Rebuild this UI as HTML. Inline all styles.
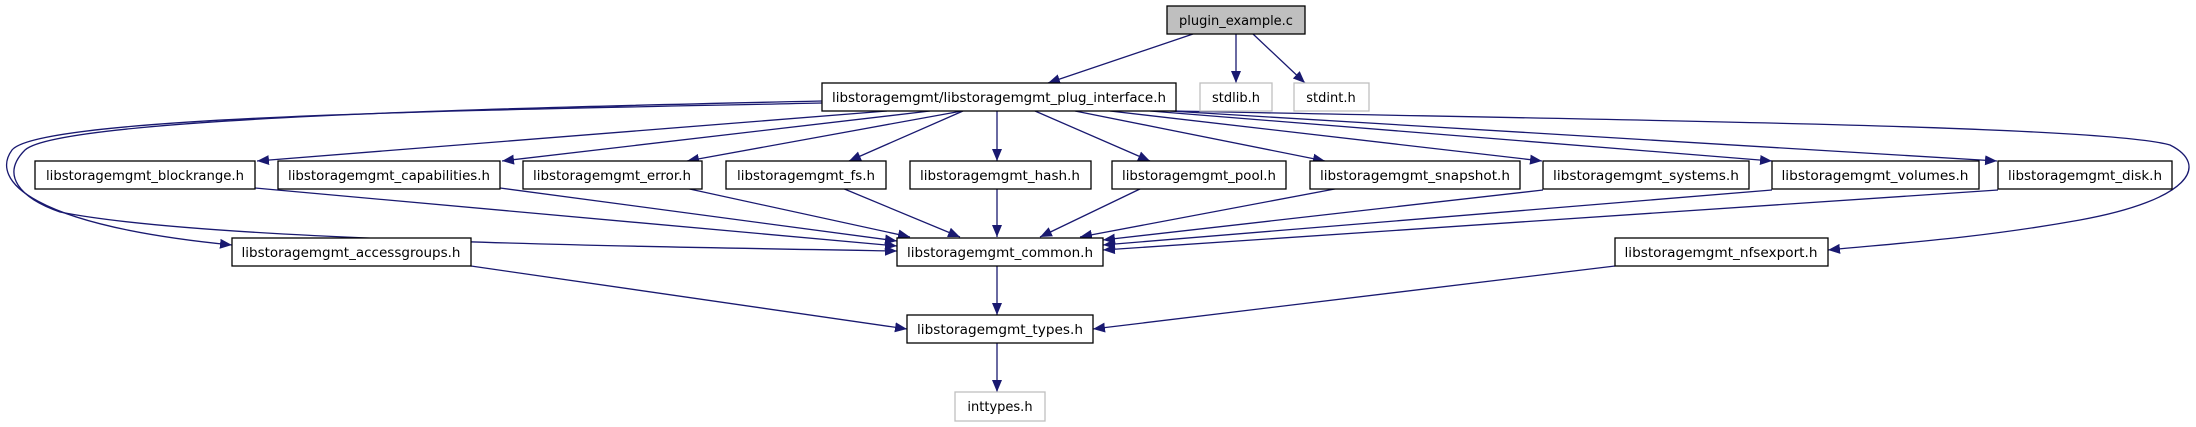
<!DOCTYPE html>
<html><head><meta charset="utf-8"><style>
html,body{margin:0;padding:0;background:#fff;}
svg{display:block;}
text{font-family:"DejaVu Sans","Liberation Sans",sans-serif;font-size:13px;fill:#000;}
</style></head><body>
<svg width="2196" height="427" viewBox="0 0 2196 427" xmlns="http://www.w3.org/2000/svg">
<defs>
<marker id="a" viewBox="0 0 12 10" refX="12" refY="5" markerWidth="12" markerHeight="10" markerUnits="userSpaceOnUse" orient="auto">
<path d="M0,0 L12,5 L0,10 z" fill="#191970"/>
</marker>
</defs>
<g fill="none" stroke="#191970" stroke-width="1.3" marker-end="url(#a)">
<path d="M1193,34 L1048,83"/>
<path d="M1236,34 L1236,83"/>
<path d="M1253,34 L1305,83"/>
<path d="M887,111 L257,161"/>
<path d="M930,111 L502,161"/>
<path d="M962,111 L687,161"/>
<path d="M963,111 L849,161"/>
<path d="M997,111 L997,161"/>
<path d="M1035,111 L1150,161"/>
<path d="M1075,111 L1325,161"/>
<path d="M1110,111 L1542,161"/>
<path d="M1150,111 L1772,161"/>
<path d="M1170,111 L1997,161"/>
<path d="M822,101 C500,108 60,118 25,150 C0,175 20,198 60,212 C200,240 600,246 897,251"/>
<path d="M822,103 C500,110 40,115 12,150 C-10,180 30,225 232,245"/>
<path d="M1176,111 C1600,120 2100,125 2170,145 C2210,165 2190,200 2080,220 C1980,238 1900,243 1828,250"/>
<path d="M255,188 L897,246"/>
<path d="M500,188 L897,241"/>
<path d="M685,188 L910,237"/>
<path d="M842,188 L960,237"/>
<path d="M997,188 L997,237"/>
<path d="M1142,188 L1040,237"/>
<path d="M1340,188 L1080,237"/>
<path d="M1543,190 L1103,240"/>
<path d="M1772,190 L1103,245"/>
<path d="M1998,190 L1103,250"/>
<path d="M997,266 L997,315"/>
<path d="M471,266 L907,329"/>
<path d="M1615,266 L1093,329"/>
<path d="M997,343 L997,392"/>
</g>
<g stroke-width="1.3">
<rect x="1167" y="6" width="138" height="28" fill="#bfbfbf" stroke="#000"/>
<rect x="822" y="83" width="354" height="28" fill="#fff" stroke="#000"/>
<rect x="1200" y="83" width="72" height="28" fill="#fff" stroke="#bfbfbf"/>
<rect x="1294" y="83" width="75" height="28" fill="#fff" stroke="#bfbfbf"/>
<rect x="35" y="161" width="220" height="28" fill="#fff" stroke="#000"/>
<rect x="278" y="161" width="222" height="28" fill="#fff" stroke="#000"/>
<rect x="523" y="161" width="179" height="28" fill="#fff" stroke="#000"/>
<rect x="726" y="161" width="160" height="28" fill="#fff" stroke="#000"/>
<rect x="910" y="161" width="181" height="28" fill="#fff" stroke="#000"/>
<rect x="1112" y="161" width="174" height="28" fill="#fff" stroke="#000"/>
<rect x="1310" y="161" width="210" height="28" fill="#fff" stroke="#000"/>
<rect x="1543" y="161" width="206" height="28" fill="#fff" stroke="#000"/>
<rect x="1772" y="161" width="207" height="28" fill="#fff" stroke="#000"/>
<rect x="1998" y="161" width="174" height="28" fill="#fff" stroke="#000"/>
<rect x="232" y="238" width="239" height="28" fill="#fff" stroke="#000"/>
<rect x="897" y="238" width="206" height="28" fill="#fff" stroke="#000"/>
<rect x="1615" y="238" width="213" height="28" fill="#fff" stroke="#000"/>
<rect x="907" y="315" width="186" height="28" fill="#fff" stroke="#000"/>
<rect x="955" y="392" width="90" height="29" fill="#fff" stroke="#bfbfbf"/>
</g>
<g text-anchor="middle">
<text x="1236" y="25">plugin_example.c</text>
<text x="999" y="102" textLength="334" lengthAdjust="spacingAndGlyphs">libstoragemgmt/libstoragemgmt_plug_interface.h</text>
<text x="1236" y="102">stdlib.h</text>
<text x="1331" y="102">stdint.h</text>
<text x="145" y="180" textLength="198" lengthAdjust="spacingAndGlyphs">libstoragemgmt_blockrange.h</text>
<text x="389" y="180" textLength="202" lengthAdjust="spacingAndGlyphs">libstoragemgmt_capabilities.h</text>
<text x="612" y="180" textLength="158" lengthAdjust="spacingAndGlyphs">libstoragemgmt_error.h</text>
<text x="806" y="180" textLength="138" lengthAdjust="spacingAndGlyphs">libstoragemgmt_fs.h</text>
<text x="1000" y="180" textLength="160" lengthAdjust="spacingAndGlyphs">libstoragemgmt_hash.h</text>
<text x="1199" y="180" textLength="154" lengthAdjust="spacingAndGlyphs">libstoragemgmt_pool.h</text>
<text x="1415" y="180" textLength="190" lengthAdjust="spacingAndGlyphs">libstoragemgmt_snapshot.h</text>
<text x="1646" y="180" textLength="186" lengthAdjust="spacingAndGlyphs">libstoragemgmt_systems.h</text>
<text x="1875" y="180" textLength="187" lengthAdjust="spacingAndGlyphs">libstoragemgmt_volumes.h</text>
<text x="2085" y="180" textLength="154" lengthAdjust="spacingAndGlyphs">libstoragemgmt_disk.h</text>
<text x="351" y="257" textLength="219" lengthAdjust="spacingAndGlyphs">libstoragemgmt_accessgroups.h</text>
<text x="1000" y="257" textLength="186" lengthAdjust="spacingAndGlyphs">libstoragemgmt_common.h</text>
<text x="1721" y="257" textLength="193" lengthAdjust="spacingAndGlyphs">libstoragemgmt_nfsexport.h</text>
<text x="1000" y="334" textLength="166" lengthAdjust="spacingAndGlyphs">libstoragemgmt_types.h</text>
<text x="1000" y="411">inttypes.h</text>
</g>
</svg>
</body></html>
